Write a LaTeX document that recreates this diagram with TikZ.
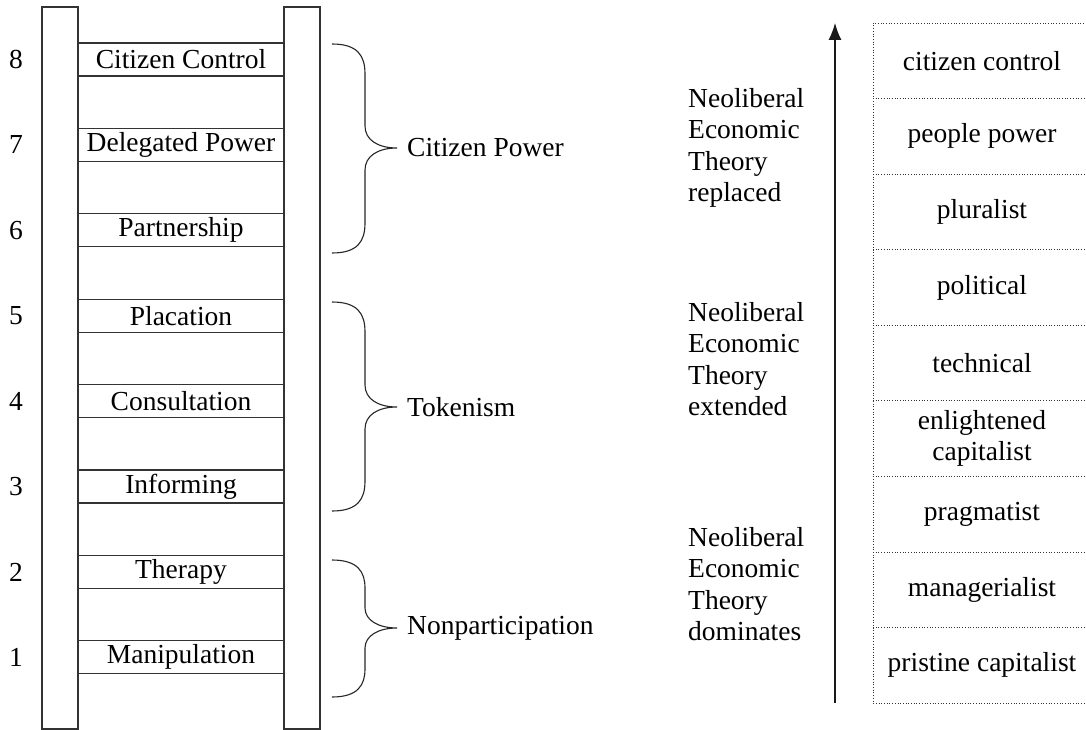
\documentclass[tikz,border=0pt]{standalone}
\usepackage{fontspec}
\setmainfont{Liberation Serif}
\usetikzlibrary{arrows.meta}
\tikzset{
  txt/.style={font=\fontsize{27.5}{31.5}\selectfont, inner sep=0pt, text=black},
  rail/.style={draw=black!80, line width=1.1pt},
  rung/.style={txt, draw=black!80, line width=1.1pt, minimum width=206pt, minimum height=33pt},
  bracepath/.style={draw=black!85, line width=1.1pt},
  cell/.style={txt, align=center},
  dotline/.style={draw=black!80, dotted, line width=0.7pt},
  grp/.style={txt, anchor=west, align=left},
  uparrow/.style={draw=black!90, line width=1.2pt, -{Latex[length=17pt,width=13pt]}}
}
\begin{document}
\begin{tikzpicture}[x=1pt,y=-1pt]
\useasboundingbox (0,0) rectangle (1086,730);
\clip (0,0) rectangle (1086,730);
% rails
\draw[rail] (42,7) rectangle (78,729);
\draw[rail] (284,7) rectangle (320,729);
% rungs
\node[rung] (r8) at (181,59.5) {Citizen Control};
\node[rung] (r7) at (181,144.9) {Delegated Power};
\node[rung] (r6) at (181,230.3) {Partnership};
\node[rung] (r5) at (181,315.7) {Placation};
\node[rung] (r4) at (181,401.1) {Consultation};
\node[rung] (r3) at (181,486.5) {Informing};
\node[rung] (r2) at (181,571.9) {Therapy};
\node[rung] (r1) at (181,657.3) {Manipulation};
% numbers
\node[txt] (n8) at (16,59.5) {8};
\node[txt] (n7) at (16,144.9) {7};
\node[txt] (n6) at (16,230.3) {6};
\node[txt] (n5) at (16,315.7) {5};
\node[txt] (n4) at (16,401.1) {4};
\node[txt] (n3) at (16,486.5) {3};
\node[txt] (n2) at (16,571.9) {2};
\node[txt] (n1) at (16,657.3) {1};
% braces
\draw[bracepath] (332,44) .. controls (358,44) and (365,56) .. (365,74) -- (365,126)
  .. controls (365,140) and (378,148) .. (397,148)
  .. controls (378,148) and (365,156) .. (365,170) -- (365,223)
  .. controls (365,241) and (358,253) .. (332,253);
\coordinate (b1) at (397,148);
\draw[bracepath] (332,302) .. controls (358,302) and (365,314) .. (365,332) -- (365,385)
  .. controls (365,399) and (378,407) .. (397,407)
  .. controls (378,407) and (365,415) .. (365,429) -- (365,481)
  .. controls (365,499) and (358,511) .. (332,511);
\coordinate (b2) at (397,407);
\draw[bracepath] (332,560) .. controls (358,560) and (365,572) .. (365,588) -- (365,608)
  .. controls (365,620) and (378,628) .. (397,628)
  .. controls (378,628) and (365,636) .. (365,648) -- (365,669)
  .. controls (365,685) and (358,697) .. (332,697);
\coordinate (b3) at (397,628);
\node[txt, anchor=west] (l1) at ([xshift=10pt]b1) {Citizen Power};
\node[txt, anchor=west] (l2) at ([xshift=10pt]b2) {Tokenism};
\node[txt, anchor=west] (l3) at ([xshift=10pt]b3) {Nonparticipation};
% right column grid
\draw[dotline] (1100,23) -- (873,23) -- (873,703) -- (1100,703);
\foreach \k in {1,...,8} {
  \draw[dotline] (873,{23+\k*75.56}) -- (1100,{23+\k*75.56});
}
\node[cell] (c9) at (982,60.8) {citizen control};
\node[cell] (c8) at (982,136.3) {people power};
\node[cell] (c7) at (982,211.9) {pluralist};
\node[cell] (c6) at (982,287.5) {political};
\node[cell] (c5) at (982,363.0) {technical};
\node[cell] (c4) at (982,438.6) {enlightened\\capitalist};
\node[cell] (c3) at (982,514.1) {pragmatist};
\node[cell] (c2) at (982,589.7) {managerialist};
\node[cell] (c1) at (982,665.2) {pristine capitalist};
% arrow
\coordinate (a0) at (835,703);
\coordinate (a1) at (835,23);
\draw[uparrow] (a0) -- (a1);
% group labels
\node[grp] (g1) at (688,148) {Neoliberal\\Economic\\Theory\\replaced};
\node[grp] (g2) at (688,359) {Neoliberal\\Economic\\Theory\\extended};
\node[grp] (g3) at (688,584) {Neoliberal\\Economic\\Theory\\dominates};
\end{tikzpicture}
\end{document}
